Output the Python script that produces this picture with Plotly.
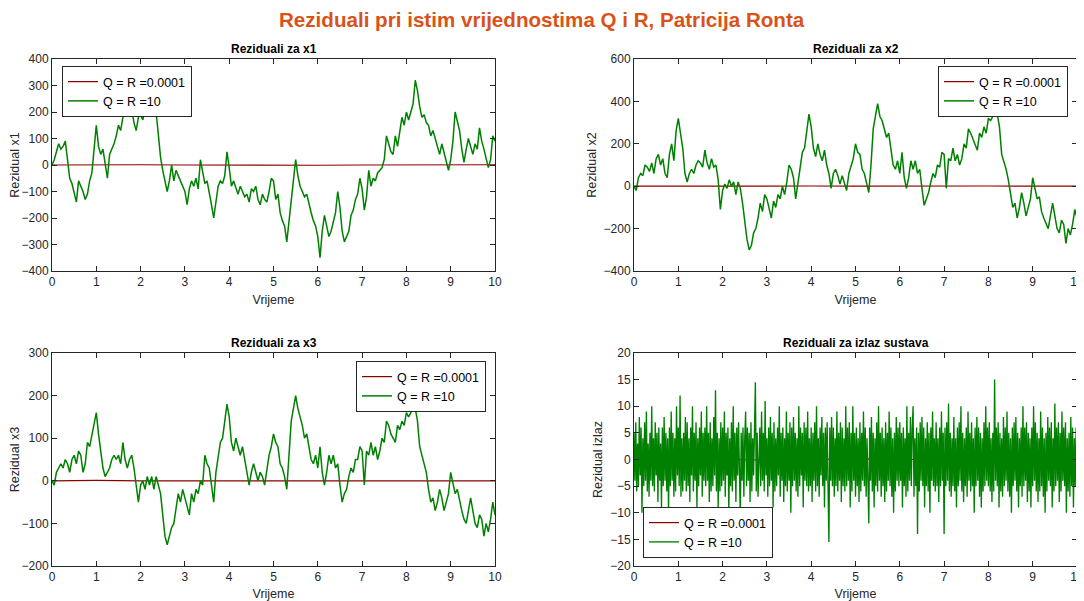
import plotly.graph_objects as go

# ---------------- data ----------------
t_state = [round(i * 0.05, 2) for i in range(201)]

x1_big = [0, 20, 50, 80, 60, 70, 90, 20, -50, -70, -110, -140, -60, -80, -100, -130, -110, -60, -30, 60,
          150, 70, 40, 60, 0, -50, 40, 60, 80, 110, 150, 130, 190, 230, 240, 220, 210, 160, 130, 180,
          190, 170, 210, 200, 190, 230, 210, 200, 110, 30, -20, -60, -100, -60, 0, -60, -20, -40, -60, -80,
          -100, -150, -90, -60, -80, -50, -90, 20, -20, -70, -60, -100, -150, -200, -140, -80, -60, -70, -40, 50,
          -10, -80, -60, -90, -110, -80, -100, -120, -110, -140, -90, -100, -80, -130, -150, -110, -130, -140, -100, -50,
          -60, -130, -110, -180, -210, -230, -290, -210, -130, -60, 20, -40, -80, -100, -120, -110, -150, -180, -210, -230,
          -270, -350, -250, -190, -230, -270, -250, -210, -180, -100, -160, -250, -290, -270, -250, -190, -170, -130, -110, -50,
          -90, -170, -120, -20, -80, -50, -60, -30, -20, -10, 20, 110, 80, 50, 40, 110, 70, 130, 180, 150,
          200, 170, 200, 230, 320, 280, 220, 180, 190, 160, 150, 110, 130, 100, 60, 40, 80, 50, 10, -20,
          20, 90, 200, 160, 130, 60, 10, 60, 100, 70, 40, 80, 60, 140, 90, 60, 30, -10, 20, 110,
          90]

x2_big = [0, -20, 40, 60, 50, 100, 90, 70, 110, 60, 130, 150, 100, 130, 60, 40, 150, 200, 120, 260,
          320, 250, 180, 60, 20, 60, 80, 60, 100, 120, 110, 90, 170, 110, 80, 130, 90, 100, 30, -110,
          -20, 10, -10, 30, 0, 20, -40, 20, -10, -80, -180, -250, -300, -280, -220, -200, -150, -80, -120, -40,
          -60, -110, -150, -70, -100, -40, -60, 0, -40, 20, 100, 80, 40, -60, 10, 80, 160, 180, 260, 340,
          280, 180, 140, 200, 150, 120, 170, 100, 60, -10, 60, 80, 50, 10, 50, 20, -20, 60, 100, 130,
          200, 160, 150, 80, 60, 20, -30, 100, 270, 330, 390, 330, 310, 270, 230, 250, 180, 100, 80, 120,
          60, 160, 40, -10, 40, 120, 80, 120, 60, 80, -10, -90, -60, -30, 20, 60, 40, 100, 90, 160,
          150, -10, 130, 120, 180, 120, 150, 100, 130, 200, 180, 270, 250, 220, 190, 170, 250, 230, 280, 250,
          320, 310, 330, 380, 340, 280, 150, 120, 80, 30, -40, -100, -80, -150, -100, -30, -80, -140, -100, -60,
          40, -10, -60, -50, -120, -150, -180, -200, -140, -80, -140, -200, -220, -160, -180, -270, -200, -230, -180, -110,
          -150]

x3_big = [0, -10, 20, 30, 40, 30, 50, 40, 20, 50, 60, 40, 70, 60, 20, 40, 90, 80, 110, 130,
          160, 110, 70, 30, 10, 20, 30, 50, 60, 50, 60, 40, 90, 50, 30, 50, 60, 30, -10, -50,
          -10, 0, -20, 10, -10, 10, -20, 10, -10, -30, -80, -130, -150, -130, -110, -100, -70, -30, -50, -20,
          -40, -60, -80, -30, -50, -20, -30, 0, -10, 60, 40, 30, -10, -50, 20, 60, 90, 100, 140, 180,
          150, 90, 70, 100, 80, 60, 80, 50, 30, -10, 20, 40, 20, 0, 20, 10, -10, 30, 60, 80,
          110, 90, 80, 40, 30, 10, -20, 60, 140, 170, 200, 170, 150, 130, 100, 110, 80, 50, 40, 60,
          30, 80, 20, -10, 20, 60, 40, 60, 30, 40, -10, -50, -30, -20, 10, 30, 20, 50, 50, 80,
          70, -10, 70, 60, 90, 60, 80, 50, 70, 100, 90, 140, 130, 110, 100, 90, 130, 120, 140, 130,
          160, 150, 160, 190, 170, 140, 80, 60, 40, 20, -20, -50, -40, -70, -50, -20, -40, -70, -50, -30,
          20, -10, -30, -20, -50, -70, -90, -100, -70, -40, -70, -100, -110, -80, -90, -130, -100, -120, -90, -50,
          -80]

t_out = [round(i * 0.02, 2) for i in range(501)]
y_big = [5, -4, 7, -6, 3, -5, 8, -3, 6, -10, 4, -5, 7, -4, 9, -6, 3, -7, 5, -4,
         10, -5, 4, -6, 7, -3, 5, -8, 6, -4, 3, -9, 6, -5, 8, -4, 5, -6, 4, -10,
         6, -5, 9, -4, 5, -7, 4, -6, 10, -3, 6, -5, 12, -7, 4, -6, 5, -4, 8, -6,
         7, -5, 4, -8, 6, -3, 10, -6, 5, -4, 7, -9, 4, -5, 6, -3, 9, -7, 5, -4,
         6, -5, 10, -4, 5, -8, 7, -6, 4, -5, 8, -3, 13, -6, 5, -9, 4, -6, 7, -5,
         6, -4, 9, -7, 5, -3, 6, -10, 4, -5, 7, -6, 10, -4, 5, -8, 6, -3, 7, -5,
         -11, 5, -4, 6, -7, 4, 9, -5, 6, -4, 5, -8, 7, -6, 4, -3, 8, 14.5, -6, 5,
         -7, 4, 6, -5, 9, -4, 5, -6, 11, -3, 4, -7, 6, -5, 8, -4, 5, -9, 7, -6,
         4, -5, 6, -3, 10, -7, 5, -4, 6, -8, 4, -5, 9, -6, 5, -4, 7, -10, 6, -5,
         8, -4, 5, -6, 4, -7, 10, -5, 6, -3, 5, -9, 7, -4, 6, -5, 9, -6, 4, -5,
         6, -8, 5, -4, 7, -6, 10, -5, 4, -7, 6, -3, 8, -5, 5, -9, 6, -4, 7, -5,
         -15.5, 6, -4, 8, -5, 6, -7, 4, -5, 9, -6, 5, -4, 7, -8, 6, -5, 4, -6, 10,
         -5, 6, -4, 7, -9, 5, -6, 10, -4, 5, -7, 6, -5, 4, -8, 7, -6, 5, -4, 9,
         -5, 6, -7, 4, -5, -12, 6, -4, 8, -6, 5, -9, 4, -5, 7, -6, 10, -4, 5, -7,
         6, -5, 4, -8, 7, -6, 5, -4, 9, -5, 6, -7, 4, -10, 5, -6, 8, -4, 6, -5,
         7, -4, 5, -9, 6, -5, 4, -7, 10, -6, 5, -4, 8, -5, 6, 10, -7, 4, -5, 6,
         -14, 5, -6, 7, -4, 8, -5, 6, -9, 4, -5, 7, -6, 5, -10, 6, -4, 9, -5, 4,
         -6, 7, -5, 4, -8, 6, -5, 9, -4, 5, -14, 6, -5, 7, -4, 10.5, -6, 5, -7, 4,
         -5, 8, -6, 4, -9, 6, -5, 7, -4, 10, -6, 5, -8, 4, -5, 6, -7, 9, -4, 5,
         -6, 7, -5, 4, -10, 6, -5, 8, -4, 6, -7, 5, -9, 4, -6, 7, -5, 10, -4, 6,
         -5, 7, -6, 4, -8, 5, -6, 15, -4, 6, -5, 7, -9, 5, -6, 4, -7, 8, -5, 6,
         -4, 9, -6, 5, -7, 4, -10, 6, -5, 7, -4, 8, -6, 5, -9, 4, -5, 6, -7, 10,
         -5, 6, -4, 7, -8, 5, -6, 4, -9, 6, -5, 10, -4, 7, -6, 5, -8, 4, -6, 9,
         -5, 6, -7, 4, -10, 5, -6, 8, -4, 6, -5, 7, -9, 4, -6, 10.5, -5, 6, -4, 7,
         -8, 5, -6, 9, -4, 6, -5, 7, -10, 4, -6, 5, -7, 8, -5, 6, -9, 4, -5, 6,
         3]

t_small = [0, 1, 2, 3, 4, 5, 6, 7, 8, 9, 10]
x1_small = [0, 1, 1, 0, -1, 0, -1, 0, 1, 0, 1]
x2_small = [0, 1, 0, 0, 1, 0, 1, 0, 1, 0, 0]
x3_small = [0, 1, 0, 0, 1, 1, 0, 0, 1, 0, 0]
y_small = [0, 0.1, 0, -0.1, 0, 0.1, 0, 0, -0.1, 0, 0]

labels = ["Q = R =0.0001", "Q = R =10"]
titles = ["Reziduali za x1", "Reziduali za x2", "Reziduali za x3", "Reziduali za izlaz sustava"]
ylabels = ["Rezidual x1", "Rezidual x2", "Rezidual x3", "Rezidual izlaz"]
yranges = [[-400, 400], [-400, 600], [-200, 300], [-20, 20]]
ydticks = [100, 200, 100, 5]

RED = "#8B0000"
GREEN = "#008000"
AXC = "#262626"
FONT = "Liberation Sans, Arial, Helvetica, sans-serif"

# the page adds an 8px body margin; build the figure so the visible window matches
OFF = 8
W, H = 1084 - OFF, 601 - OFF


def px(v):
    return (v - OFF) / W


def py(v):
    return 1 - (v - OFF) / H


# pixel boxes of the four axes in the window (left, right, top, bottom)
boxes = [(52, 495, 59, 271), (634, 1077, 59, 271), (52, 495, 353, 566), (634, 1077, 353, 566)]
green_w = [1.5, 1.5, 1.5, 1.35]

series = [
    (t_small, x1_small, t_state, x1_big),
    (t_small, x2_small, t_state, x2_big),
    (t_small, x3_small, t_state, x3_big),
    (t_small, y_small, t_out, y_big),
]

fig = go.Figure()
layout = dict(
    width=W, height=H,
    margin=dict(l=0, r=0, t=0, b=0, autoexpand=False),
    paper_bgcolor="white", plot_bgcolor="white",
    font=dict(family=FONT, size=12, color=AXC),
    annotations=[],
)

legend_pos = [
    dict(x=px(62), y=py(66), xanchor="left", yanchor="top"),
    dict(x=px(1068), y=py(66), xanchor="right", yanchor="top"),
    dict(x=px(486), y=py(361), xanchor="right", yanchor="top"),
    dict(x=px(643), y=py(558), xanchor="left", yanchor="bottom"),
]

for i, (ts, ys, tb, yb) in enumerate(series):
    n = i + 1
    xa = "x" if n == 1 else f"x{n}"
    ya = "y" if n == 1 else f"y{n}"
    lg = "legend" if n == 1 else f"legend{n}"
    fig.add_trace(go.Scatter(x=ts, y=ys, mode="lines", name=labels[0],
                             line=dict(color=RED, width=1.2), xaxis=xa, yaxis=ya, legend=lg))
    fig.add_trace(go.Scatter(x=tb, y=yb, mode="lines", name=labels[1],
                             line=dict(color=GREEN, width=green_w[i]), xaxis=xa, yaxis=ya, legend=lg))
    l, r, tp, bt = boxes[i]
    xkey = "xaxis" if n == 1 else f"xaxis{n}"
    ykey = "yaxis" if n == 1 else f"yaxis{n}"
    layout[xkey] = dict(
        domain=[px(l), px(r)], anchor=ya, range=[0, 10], dtick=1, automargin=False,
        showline=True, linecolor=AXC, linewidth=1, mirror="ticks",
        ticks="inside", ticklen=5, tickcolor=AXC, showgrid=False, zeroline=False,
        tickfont=dict(size=12, color=AXC),
        title=dict(text="Vrijeme", font=dict(size=12.5, color=AXC), standoff=6),
    )
    layout[ykey] = dict(
        domain=[py(bt), py(tp)], anchor=xa, range=yranges[i], dtick=ydticks[i], automargin=False,
        showline=True, linecolor=AXC, linewidth=1, mirror="ticks",
        ticks="inside", ticklen=5, tickcolor=AXC, showgrid=False, zeroline=False,
        tickfont=dict(size=12, color=AXC),
        title=dict(text=ylabels[i], font=dict(size=12.5, color=AXC), standoff=4),
    )
    layout[lg] = dict(
        **legend_pos[i],
        bgcolor="white", bordercolor=AXC, borderwidth=1,
        font=dict(size=12.5, color="black", family=FONT),
        tracegroupgap=0, itemwidth=30,
    )
    layout["annotations"].append(dict(
        text="<b>" + titles[i] + "</b>", xref="paper", yref="paper",
        x=px((l + r) / 2), y=py(tp - 10), xanchor="center", yanchor="middle",
        showarrow=False, font=dict(size=12, color="black", family=FONT),
    ))

layout["annotations"].append(dict(
    text="<b>Reziduali pri istim vrijednostima Q i R, Patricija Ronta</b>",
    xref="paper", yref="paper", x=px(542), y=py(20), xanchor="center", yanchor="middle",
    showarrow=False, font=dict(size=20.6, color="#D95319", family=FONT),
))

fig.update_layout(**layout)
fig.write_html("out.html")
